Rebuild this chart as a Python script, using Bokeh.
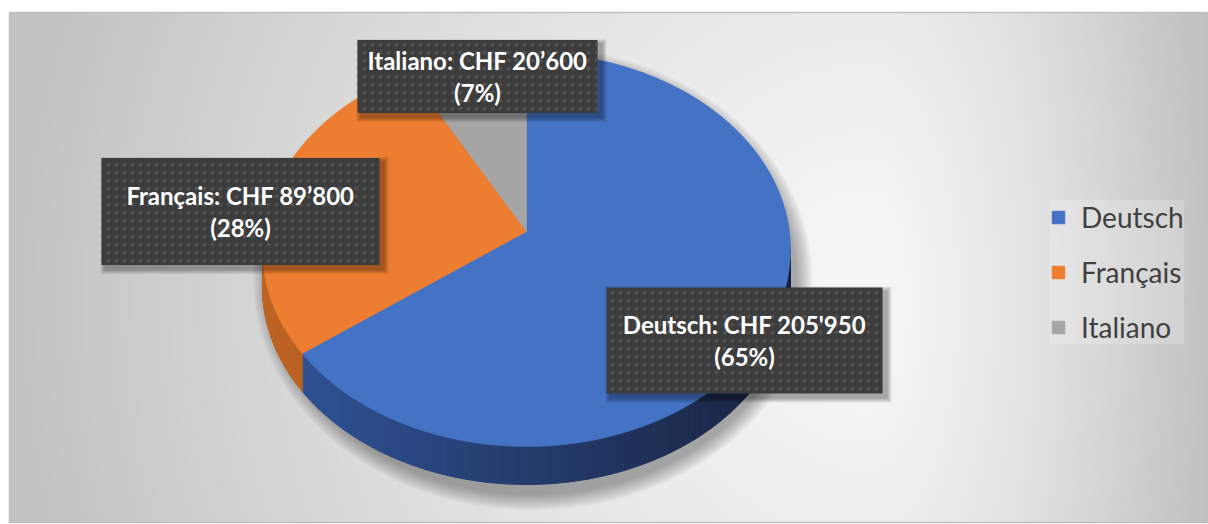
import numpy as np
from bokeh.plotting import figure
from bokeh.models import Range1d, ColumnDataSource
from bokeh.core.properties import value
from bokeh.embed import file_html
from bokeh.resources import INLINE

# ---------------- data ----------------
categories = ["Deutsch", "Français", "Italiano"]
amounts = [205950, 89800, 20600]
amount_labels = ["205'950", "89’800", "20’600"]
percent_labels = ["65%", "28%", "7%"]
colors = ["#4472C4", "#ED7D31", "#A5A5A5"]
side_left = ["#30559a", "#bd6424", "#7c7c7c"]
side_right = ["#19233f", "#9a4d16", "#5c5c5c"]

# ---------------- layout ----------------
W, H = 1208, 524
FX0, FX1, FY0, FY1 = 9, 1207, 12, 522      # chart area (pixels, y down)
CX, CY = 526, 249                          # ellipse centre
VX, VY = 526, 231                          # apparent vertex of the slices
RX, RY = 264, 197                          # ellipse radii
DEPTH = 38
WARP = 4.0                                 # perspective angle warp (deg)

box_cx = [744, 240, 477]
box_cy = [340, 211, 76]
box_w = [276, 278, 240]
box_h = [106, 107, 73]


def Y(py):
    return H - np.asarray(py, dtype=float)


p = figure(width=W, height=H, x_range=Range1d(0, W), y_range=Range1d(0, H),
           output_backend="svg", toolbar_location=None, min_border=0,
           outline_line_color=None, background_fill_color="white",
           border_fill_color="white", x_axis_location=None, y_axis_location=None)
p.grid.visible = False

# ---------------- background gradient ----------------
nc, nr = 599, 255
xs_px = np.linspace(FX0, FX1, nc)
ys_px = np.linspace(FY1, FY0, nr)   # row 0 = bottom
XX, YY = np.meshgrid(xs_px, ys_px)
GX, GY = 870, 300
dx = np.where(XX < GX, (XX - GX) / (GX - FX0), (XX - GX) / (FX1 - GX))
dy = (YY - GY) / 900.0
t = np.clip(np.sqrt(dx ** 2 + dy ** 2), 0, 1)
g = np.clip(246 - 52 * t ** 1.4, 0, 255).astype(np.uint8)
img = np.empty((nr, nc), dtype=np.uint32)
view = img.view(dtype=np.uint8).reshape((nr, nc, 4))
view[..., 0] = g
view[..., 1] = g
view[..., 2] = g
view[..., 3] = 255
p.image_rgba(image=[img], x=FX0, y=float(Y(FY1)), dw=FX1 - FX0, dh=FY1 - FY0)
p.quad(left=FX0, right=FX1, bottom=float(Y(FY1)), top=float(Y(FY0)),
       fill_color=None, line_color="#bfbfbf", line_width=1.5)

# ---------------- pie shadow ----------------
for k in range(14):
    grow = 16 - k * 1.2
    p.ellipse(x=CX + 6, y=float(Y(CY + DEPTH / 2 + 10)), width=2 * (RX + grow),
              height=2 * (RY + DEPTH / 2 + grow), fill_color="black",
              fill_alpha=0.025, line_color=None)

# ---------------- slice angles ----------------
total = float(sum(amounts))
fracs = [a / total for a in amounts]
starts, ends = [], []
ang = 90.0
for f in fracs:
    starts.append(ang)
    ang -= 360.0 * f
    ends.append(ang)


def rim(theta_deg):
    th = np.radians(np.asarray(theta_deg, dtype=float))
    # slight perspective: angles near the viewer spread out
    th = th - np.radians(WARP) * np.sin(2 * th)
    return CX + RX * np.cos(th), CY - RY * np.sin(th)


def hex2rgb(h):
    h = h.lstrip("#")
    return np.array([int(h[i:i + 2], 16) for i in (0, 2, 4)], dtype=float)


def rgb2hex(c):
    c = np.clip(np.round(c), 0, 255).astype(int)
    return "#%02x%02x%02x" % tuple(c)


# ---------------- sides (visible lower half) ----------------
side_xs, side_ys, side_cols = [], [], []
for i in range(len(categories)):
    a_hi, a_lo = starts[i], ends[i]          # a_lo < a_hi
    for shift in (0, -360, 360):
        lo = max(a_lo + shift, -180.0)
        hi = min(a_hi + shift, 0.0)
        if hi <= lo:
            continue
        n = max(2, int((hi - lo) / 1.5))
        edges = np.linspace(lo, hi, n + 1)
        cl, cr = hex2rgb(side_left[i]), hex2rgb(side_right[i])
        for j in range(n):
            x1, y1 = rim(edges[j])
            x2, y2 = rim(edges[j + 1])
            xm = (x1 + x2) / 2
            s = np.clip((xm - (CX - RX)) / (2 * RX), 0, 1)
            col = rgb2hex(cl + (cr - cl) * s)
            side_xs.append([x1, x2, x2, x1])
            side_ys.append(list(Y([y1, y2, y2 + DEPTH, y1 + DEPTH])))
            side_cols.append(col)
p.patches(xs=side_xs, ys=side_ys, fill_color=side_cols, line_color=side_cols,
          line_width=1)

# ---------------- top faces ----------------
top_xs, top_ys = [], []
for i in range(len(categories)):
    n = max(4, int(abs(starts[i] - ends[i]) / 1.0))
    th = np.linspace(starts[i], ends[i], n + 1)
    px_, py_ = rim(th)
    top_xs.append([VX] + list(px_))
    top_ys.append(list(Y([VY] + list(py_))))
src = ColumnDataSource(dict(xs=top_xs, ys=top_ys, color=colors, name=categories))
p.patches(xs="xs", ys="ys", fill_color="color", line_color="color", line_width=0.6,
          source=src, legend_field="name")

# ---------------- data labels ----------------
for i in range(len(categories)):
    for k in range(5):
        e = 5 - k
        p.rect(x=box_cx[i] + 4, y=float(Y(box_cy[i] + 4)), width=box_w[i] + 2 * e,
               height=box_h[i] + 2 * e, fill_color="black", fill_alpha=0.07,
               line_color=None)
    p.rect(x=box_cx[i], y=float(Y(box_cy[i])), width=box_w[i], height=box_h[i],
           fill_color="#3c3c3c", line_color=None, hatch_pattern="dot",
           hatch_color="#4f4f4f", hatch_scale=8, hatch_weight=1.0)

line1 = [f"{c}: CHF {a}" for c, a in zip(categories, amount_labels)]
line2 = [f"({pc})" for pc in percent_labels]
lab = ColumnDataSource(dict(
    x=box_cx,
    y1=list(Y([c - 16 for c in box_cy])),
    y2=list(Y([c + 16 for c in box_cy])),
    t1=line1, t2=line2))
for yk, tk in (("y1", "t1"), ("y2", "t2")):
    p.text(x="x", y=yk, text=tk, source=lab, text_font=value("Lato"),
           text_font_style="bold", text_font_size="24px", text_color="white",
           text_align="center", text_baseline="middle")

# ---------------- legend ----------------
lg = p.legend[0]
lg.location = (1050, 180)
lg.orientation = "vertical"
lg.label_text_font = "Lato"
lg.label_text_font_size = "28px"
lg.label_text_color = "#404040"
lg.glyph_width = 16
lg.glyph_height = 16
lg.label_standoff = 15
lg.spacing = 21
lg.padding = 16
lg.margin = 0
lg.border_line_color = None
lg.background_fill_color = "white"
lg.background_fill_alpha = 0.2

open("out.html", "w").write(file_html(p, INLINE))
